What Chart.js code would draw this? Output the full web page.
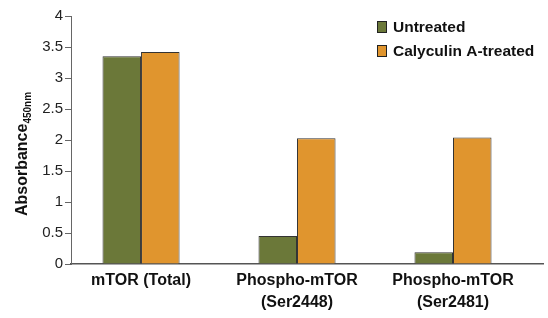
<!DOCTYPE html>
<html><head><meta charset="utf-8">
<script src="https://cdn.jsdelivr.net/npm/chart.js@4/dist/chart.umd.min.js"></script>
<style>html,body{margin:0;padding:0;background:#fff;}#wrap{width:548px;height:318px;}</style>
</head><body><div id="wrap"><canvas id="c" width="548" height="318"></canvas></div>
<script>
const categories = [["mTOR (Total)"], ["Phospho-mTOR", "(Ser2448)"], ["Phospho-mTOR", "(Ser2481)"]];
const seriesNames = ["Untreated", "Calyculin A-treated"];
const untreated = [3.35, 0.45, 0.19];
const treated = [3.42, 2.03, 2.04];
const yTicks = [0, 0.5, 1, 1.5, 2, 2.5, 3, 3.5, 4];
const colors = ["#6b7839", "#e0952e"];
const FONT = "'Liberation Sans',Arial,sans-serif";

const legendPlugin = {
  id: 'customLegend',
  afterDraw(chart) {
    const ctx = chart.ctx;
    ctx.save();
    ctx.font = "bold 15.5px " + FONT;
    ctx.textBaseline = 'middle';
    chart.data.datasets.forEach((ds, i) => {
      const y = 27 + i * 24;
      ctx.fillStyle = ds.backgroundColor;
      ctx.fillRect(377.5, y - 5.5, 9, 11);
      ctx.strokeStyle = '#222';
      ctx.lineWidth = 1;
      ctx.strokeRect(377.5, y - 5.5, 9, 11);
      ctx.fillStyle = '#111';
      ctx.fillText(ds.label, 393, y + 1);
    });
    ctx.restore();
  }
};

const titlePlugin = {
  id: 'yTitle',
  afterDraw(chart) {
    const ctx = chart.ctx;
    ctx.save();
    const main = "Absorbance", sub = "450nm";
    ctx.font = "bold 16px " + FONT;
    const w1 = ctx.measureText(main).width;
    ctx.font = "bold 10px " + FONT;
    const w2 = ctx.measureText(sub).width;
    const total = w1 + w2;
    const cy = 154;
    ctx.translate(27, cy);
    ctx.rotate(-Math.PI / 2);
    ctx.textBaseline = 'alphabetic';
    ctx.fillStyle = '#111';
    ctx.font = "bold 16px " + FONT;
    ctx.fillText(main, -total / 2, 0);
    ctx.font = "bold 10px " + FONT;
    ctx.fillText(sub, -total / 2 + w1, 4);
    ctx.restore();
  }
};

new Chart(document.getElementById('c'), {
  type: 'bar',
  data: {
    datasets: [
      { label: seriesNames[0], data: untreated.map((v, i) => ({x: i, y: v})), backgroundColor: colors[0], borderColor: '#333', borderWidth: 1 },
      { label: seriesNames[1], data: treated.map((v, i) => ({x: i, y: v})), backgroundColor: colors[1], borderColor: '#333', borderWidth: 1 }
    ]
  },
  options: {
    responsive: false,
    animation: false,
    layout: { padding: { top: 16, right: 5, left: 0, bottom: 0 } },
    plugins: { legend: { display: false }, tooltip: { enabled: false } },
    datasets: { bar: { barPercentage: 1, categoryPercentage: 0.494 } },
    scales: {
      x: {
        type: 'linear',
        min: -0.449, max: 2.577,
        offset: false,
        grid: { display: false, drawTicks: false },
        border: { display: true, color: '#555', width: 1.5 },
        afterBuildTicks(scale) { scale.ticks = categories.map((c, i) => ({ value: i })); },
        afterFit(scale) { scale.height = 54; },
        ticks: {
          autoSkip: false, maxRotation: 0, padding: 6,
          color: '#111',
          font: { family: FONT, size: 16, weight: 'bold', lineHeight: 1.35 },
          callback(v) { return categories[v] || ''; }
        }
      },
      y: {
        min: 0, max: 4,
        afterBuildTicks(scale) { scale.ticks = yTicks.map(v => ({ value: v })); },
        afterFit(scale) { scale.width = 71; },
        grid: { drawOnChartArea: false, drawTicks: true, tickLength: 6, color: '#666' },
        border: { display: true, color: '#666', width: 1 },
        ticks: {
          padding: 2, color: '#222',
          font: { family: FONT, size: 15 },
          callback(v) { return String(v); }
        }
      }
    }
  },
  plugins: [legendPlugin, titlePlugin]
});
</script></body></html>
